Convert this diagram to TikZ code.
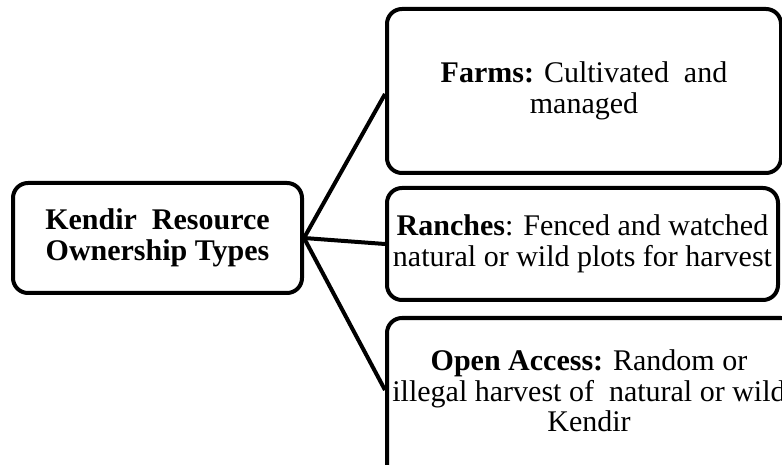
\documentclass[tikz,border=0pt]{standalone}
\usepackage{fontspec}
\setmainfont{Liberation Serif}
\begin{document}
\begin{tikzpicture}[x=1pt,y=1pt,
  box/.style={draw=black, line width=4pt, rounded corners=15pt, fill=white,
    align=center, inner sep=0pt, font=\fontsize{30}{30.5}\selectfont},
  link/.style={draw=black, line width=4pt}]
\useasboundingbox (0,0) rectangle (782,464);
% root node
\node[box, minimum width=289pt, minimum height=110pt] (root) at (157.5,226)
  {\textbf{Kendir\ \ Resource}\\\textbf{Ownership Types}};
% ownership types
\node[box, minimum width=394pt, minimum height=164pt] (farms) at (584,373)
  {\textbf{Farms:} Cultivated\ \ and\\managed};
\node[box, minimum width=391pt, minimum height=112pt] (ranches) at (582.5,220)
  {\textbf{Ranches}: Fenced and watched\\natural or wild plots for harvest};
\node[box, minimum width=409pt, minimum height=160pt] (open) at (591.5,66) {};
\node[align=center, inner sep=0pt, font=\fontsize{30}{30.5}\selectfont] (opentext) at (589,73)
  {\textbf{Open Access:} Random or\\illegal harvest of\ \ natural or wild\\Kendir};
% connectors
\draw[link] (root.east) -- ([yshift=-3pt]farms.west);
\draw[link] (root.east) -- (ranches.west);
\draw[link] (root.east) -- ([yshift=8pt]open.west);
\end{tikzpicture}
\end{document}
